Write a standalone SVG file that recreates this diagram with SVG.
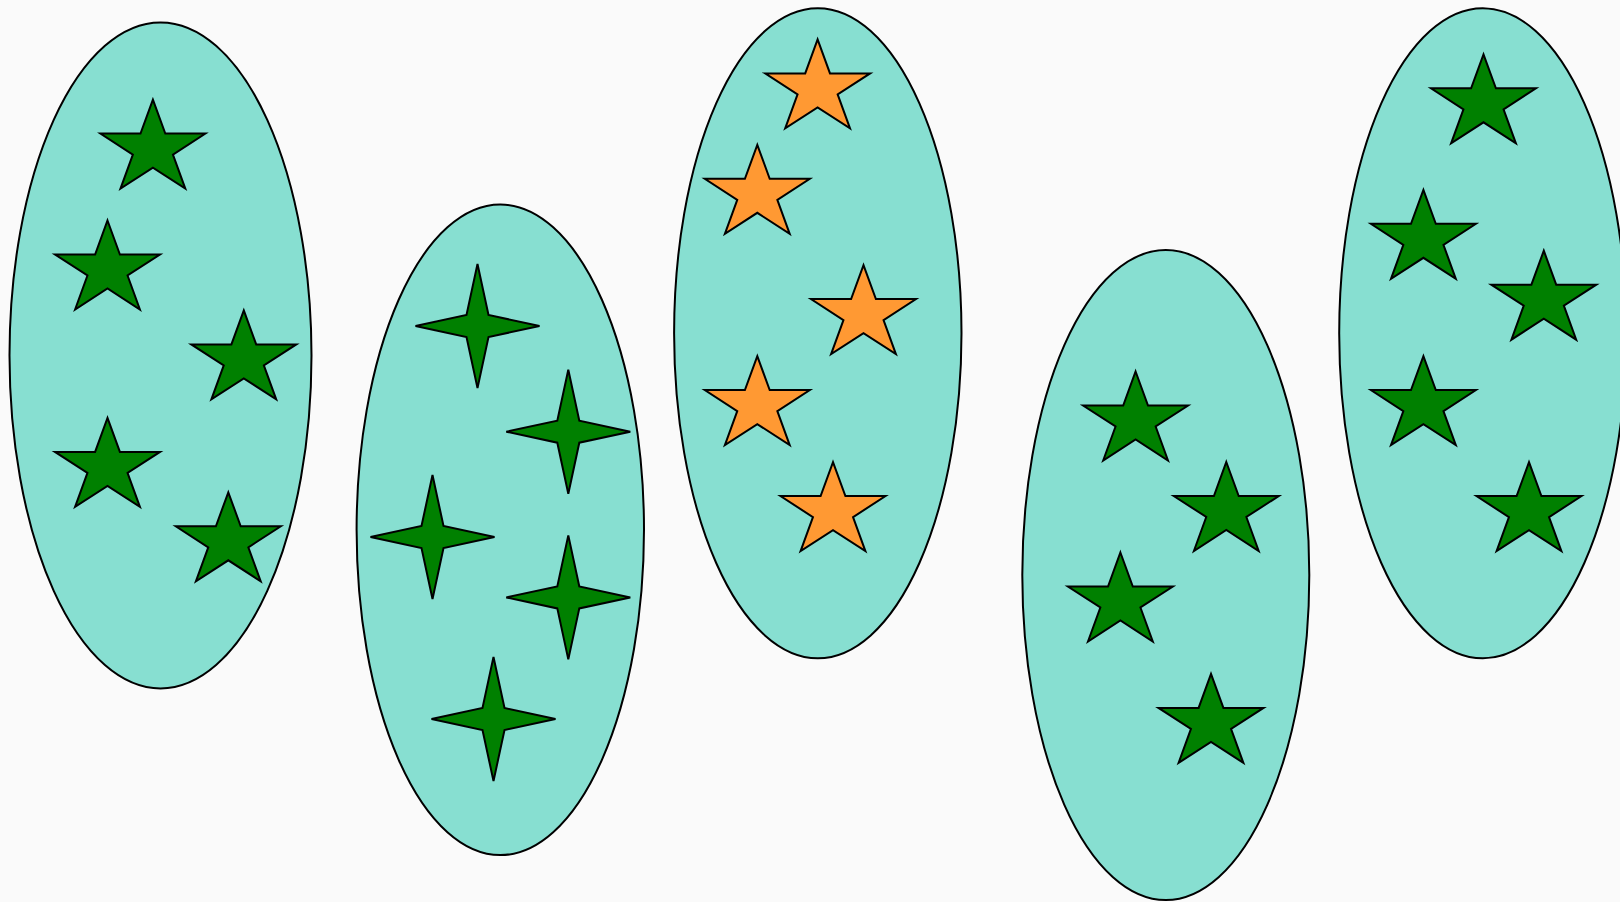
<svg xmlns="http://www.w3.org/2000/svg" xmlns:xlink="http://www.w3.org/1999/xlink" width="1620" height="902" viewBox="0 0 1620 902">
  <style>
    .bg { fill: #FAFAFA; }
    .oval { fill: #87DFD1; stroke: #000000; stroke-width: 2; }
    .green { fill: #008000; stroke: #000000; stroke-width: 2; stroke-linejoin: miter; }
    .orange { fill: #FF9933; stroke: #000000; stroke-width: 2; stroke-linejoin: miter; }
  </style>
  <defs>
    <path id="star5" d="M0,-44.5 L12.4,-10.5 L52.5,-10.5 L20.05,10.5 L32.4,44.5 L0,23.5 L-32.4,44.5 L-20.05,10.5 L-52.5,-10.5 L-12.4,-10.5 Z"/>
    <path id="star4" d="M0,-62 L11,-11 L62,0 L11,11 L0,62 L-11,11 L-62,0 L-11,-11 Z"/>
  </defs>
  <rect class="bg" x="0" y="0" width="1620" height="902"/>

  <g id="group1">
    <ellipse class="oval" cx="160.5" cy="355.4" rx="151" ry="333"/>
    <use class="green" href="#star5" x="152.9" y="144.1"/>
    <use class="green" href="#star5" x="107.5" y="265"/>
    <use class="green" href="#star5" x="243.8" y="354.9"/>
    <use class="green" href="#star5" x="107.5" y="462.4"/>
    <use class="green" href="#star5" x="228.3" y="536.8"/>
  </g>

  <g id="group2">
    <ellipse class="oval" cx="500.3" cy="529.8" rx="143.7" ry="325.3"/>
    <use class="green" href="#star4" x="477.5" y="326"/>
    <use class="green" href="#star4" x="568.3" y="431.7"/>
    <use class="green" href="#star4" x="432.5" y="537"/>
    <use class="green" href="#star4" x="568.3" y="597.4"/>
    <use class="green" href="#star4" x="493.5" y="719"/>
  </g>

  <g id="group3">
    <ellipse class="oval" cx="817.8" cy="333.2" rx="143.7" ry="325"/>
    <use class="orange" href="#star5" x="817.6" y="83.9"/>
    <use class="orange" href="#star5" x="757.3" y="189.3"/>
    <use class="orange" href="#star5" x="863.5" y="309.6"/>
    <use class="orange" href="#star5" x="757.3" y="400.6"/>
    <use class="orange" href="#star5" x="833" y="506.6"/>
  </g>

  <g id="group4">
    <ellipse class="oval" cx="1165.8" cy="575" rx="143.5" ry="325"/>
    <use class="green" href="#star5" x="1135.6" y="416"/>
    <use class="green" href="#star5" x="1226.3" y="506.5"/>
    <use class="green" href="#star5" x="1120.4" y="597"/>
    <use class="green" href="#star5" x="1211" y="718.4"/>
  </g>

  <g id="group5">
    <ellipse class="oval" cx="1482.8" cy="333.2" rx="143.6" ry="325"/>
    <use class="green" href="#star5" x="1483.5" y="98.8"/>
    <use class="green" href="#star5" x="1423.4" y="234.3"/>
    <use class="green" href="#star5" x="1543.8" y="295.2"/>
    <use class="green" href="#star5" x="1423.4" y="400.6"/>
    <use class="green" href="#star5" x="1529" y="506.6"/>
  </g>
</svg>
